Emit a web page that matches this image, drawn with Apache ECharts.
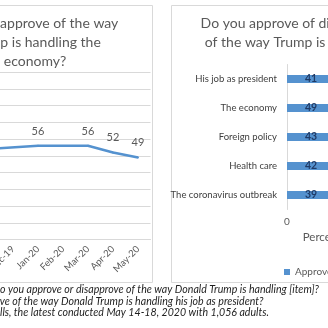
<!DOCTYPE html>
<html>
<head>
<meta charset="utf-8">
<script src="https://cdn.jsdelivr.net/npm/echarts@6/dist/echarts.min.js"></script>
<style>
  html, body { margin: 0; padding: 0; width: 328px; height: 328px; overflow: hidden; background: #fff; }
  #chart { position: absolute; left: -100px; top: 0; width: 600px; height: 328px; }
</style>
</head>
<body>
<div id="chart"></div>
<script>
// Economy approval by month (percent)
const months = ['Nov-19', 'Dec-19', 'Jan-20', 'Feb-20', 'Mar-20', 'Apr-20', 'May-20'];
const economyApproval = [54, null, 56, null, 56, 52, 49];

// Approval by issue (percent)
const issues = ['His job as president', 'The economy', 'Foreign policy', 'Health care', 'The coronavirus outbreak'];
const issueApproval = [41, 49, 43, 42, 39];

const leftTitle = 'Do you approve of the way\nTrump is handling the\neconomy?';
const rightTitle = 'Do you approve of disapprove\nof the way Trump is handling';

// Footnote lines, with the prefix that runs past the left edge of the page
const footnotes = [
  ['Question: D', 'o you approve or disapprove of the way Donald Trump is handling [item]?'],
  ['Do you appro', 've of the way Donald Trump is handling his job as president?'],
  ['Source: AP-NORC po', 'lls, the latest conducted May 14-18, 2020 with 1,056 adults.']
];

const BLUE = '#5592cf';
const GRID = '#d9d9d9';
const TEXT = '#595959';
const FONT = 'Lato';
const OX = 100; // container offset relative to the page

const measure = (() => {
  const ctx = document.createElement('canvas').getContext('2d');
  return (str, font) => { ctx.font = font; return ctx.measureText(str).width; };
})();

const noteFont = 'italic 10.6px ' + FONT;
const noteYs = [290, 301.5, 313];
const noteGraphics = footnotes.map((f, i) => ({
  type: 'text',
  x: OX - measure(f[0], noteFont),
  y: noteYs[i],
  style: { text: f[0] + f[1], font: noteFont, fill: '#1e1e1e', textVerticalAlign: 'middle', textAlign: 'left' }
}));

const chart = echarts.init(document.getElementById('chart'), null, { renderer: 'canvas' });
chart.setOption({
  animation: false,
  textStyle: { fontFamily: FONT },
  graphic: [
    { type: 'rect', shape: { x: OX - 83.5, y: 5.5, width: 236, height: 277 }, style: { fill: 'none', stroke: GRID, lineWidth: 1 } },
    { type: 'rect', shape: { x: OX + 171.5, y: 5.5, width: 246, height: 277 }, style: { fill: 'none', stroke: GRID, lineWidth: 1 } },
    { type: 'text', x: OX + 35, y: 13.5, style: { text: leftTitle, font: '14px ' + FONT, fill: TEXT, textAlign: 'center', textVerticalAlign: 'top', lineHeight: 19 } },
    { type: 'text', x: OX + 293, y: 13.5, style: { text: rightTitle, font: '14px ' + FONT, fill: TEXT, textAlign: 'center', textVerticalAlign: 'top', lineHeight: 19 } }
  ].concat(noteGraphics),
  legend: {
    data: ['Approve'],
    left: OX + 279,
    top: 262,
    padding: [5, 5, 5, 5],
    icon: 'rect',
    itemWidth: 6,
    itemHeight: 6,
    itemGap: 4,
    textStyle: { fontSize: 10, color: TEXT, fontFamily: FONT }
  },
  grid: [
    { left: OX - 24.5, top: 72, width: 175, height: 167.5 },
    { left: OX + 287, top: 64.5, width: 70, height: 145 }
  ],
  xAxis: [
    {
      gridIndex: 0, type: 'category', data: months, boundaryGap: true,
      axisLine: { lineStyle: { color: GRID } },
      axisTick: { show: false },
      axisLabel: { rotate: 45, interval: 0, fontSize: 9.5, color: TEXT, margin: 8 }
    },
    {
      gridIndex: 1, type: 'value', min: 0, max: 50, interval: 50,
      axisLine: { show: false }, axisTick: { show: false }, splitLine: { show: false },
      axisLabel: { fontSize: 10, color: TEXT, margin: 7 },
      name: 'Percent', nameLocation: 'middle', nameGap: 22,
      nameTextStyle: { fontSize: 11.5, color: TEXT }
    }
  ],
  yAxis: [
    {
      gridIndex: 0, type: 'value', min: 0, max: 100, interval: 10,
      axisLine: { show: false }, axisTick: { show: false },
      splitLine: { lineStyle: { color: GRID } },
      axisLabel: { fontSize: 10, color: TEXT }
    },
    {
      gridIndex: 1, type: 'category', data: issues, inverse: true,
      axisLine: { lineStyle: { color: GRID } },
      axisTick: { show: false },
      axisLabel: { fontSize: 9.5, color: '#404040', margin: 10 }
    }
  ],
  series: [
    {
      name: 'Economy', type: 'line', xAxisIndex: 0, yAxisIndex: 0,
      data: economyApproval, connectNulls: true,
      symbol: 'circle', symbolSize: 2,
      itemStyle: { color: BLUE },
      lineStyle: { color: BLUE, width: 2.6 },
      label: { show: true, position: 'top', distance: 8, fontSize: 11, color: TEXT }
    },
    {
      name: 'Approve', type: 'bar', xAxisIndex: 1, yAxisIndex: 1,
      data: issueApproval, barWidth: 8,
      itemStyle: { color: BLUE },
      label: { show: true, position: 'insideLeft', distance: 18, fontSize: 10.5, fontWeight: 'bold', color: '#1f3a66' }
    }
  ]
});
</script>
</body>
</html>
